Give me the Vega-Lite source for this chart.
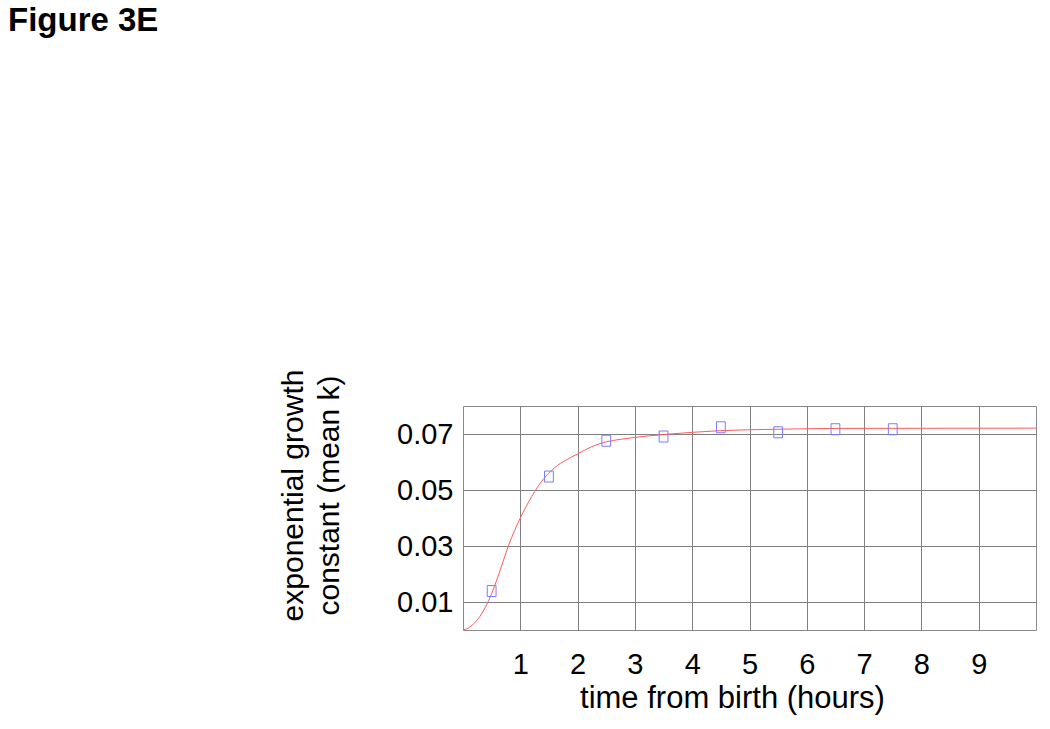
{
  "$schema": "https://vega.github.io/schema/vega-lite/v6.json",
  "autosize": "none",
  "width": 573,
  "height": 224,
  "padding": {"left": 463, "top": 406, "right": 14, "bottom": 99},
  "background": "white",
  "config": {
    "font": "Liberation Sans",
    "view": {"stroke": "#8a8a8a", "strokeWidth": 1}
  },
  "title": {
    "text": "Figure 3E",
    "anchor": "start",
    "frame": "group",
    "fontSize": 33,
    "fontWeight": "bold",
    "font": "Liberation Sans",
    "color": "black",
    "dx": -455,
    "dy": -305,
    "offset": 0,
    "baseline": "alphabetic"
  },
  "datasets": {
    "fit": [
      {"t": 0, "k": 0},
      {"t": 0.1, "k": 0.0008},
      {"t": 0.2, "k": 0.0025},
      {"t": 0.3, "k": 0.005},
      {"t": 0.4, "k": 0.0085},
      {"t": 0.5, "k": 0.013},
      {"t": 0.6, "k": 0.0185},
      {"t": 0.7, "k": 0.0245},
      {"t": 0.8, "k": 0.0305},
      {"t": 0.9, "k": 0.0355},
      {"t": 1.0, "k": 0.04},
      {"t": 1.1, "k": 0.044},
      {"t": 1.2, "k": 0.0477},
      {"t": 1.3, "k": 0.051},
      {"t": 1.4, "k": 0.0538},
      {"t": 1.5, "k": 0.056},
      {"t": 1.6, "k": 0.058},
      {"t": 1.8, "k": 0.0607},
      {"t": 2.0, "k": 0.0629},
      {"t": 2.25, "k": 0.0655},
      {"t": 2.5, "k": 0.0672},
      {"t": 2.75, "k": 0.0681},
      {"t": 3.0, "k": 0.0688},
      {"t": 3.5, "k": 0.0698},
      {"t": 4.0, "k": 0.0706},
      {"t": 4.5, "k": 0.0712},
      {"t": 5.5, "k": 0.0717},
      {"t": 6.6, "k": 0.072},
      {"t": 10, "k": 0.0721}
    ],
    "obs": [
      {"t": 0.5, "k": 0.0139},
      {"t": 1.5, "k": 0.0548},
      {"t": 2.5, "k": 0.0676},
      {"t": 3.5, "k": 0.0691},
      {"t": 4.5, "k": 0.0724},
      {"t": 5.5, "k": 0.0706},
      {"t": 6.5, "k": 0.0717},
      {"t": 7.5, "k": 0.0717}
    ]
  },
  "encoding": {
    "x": {
      "field": "t",
      "type": "quantitative",
      "scale": {"domain": [0, 10], "nice": false, "zero": false},
      "axis": {
        "title": "time from birth (hours)",
        "values": [1, 2, 3, 4, 5, 6, 7, 8, 9],
        "format": "d",
        "grid": true,
        "gridColor": "#808080",
        "gridOpacity": 1,
        "gridWidth": 1,
        "domain": false,
        "ticks": false,
        "labelPadding": 20,
        "labelFontSize": 29,
        "labelColor": "black",
        "labelFont": "Liberation Sans",
        "titleFontSize": 31,
        "titleFontWeight": "normal",
        "titleColor": "black",
        "titleFont": "Liberation Sans",
        "titleX": 269,
        "titleY": 77,
        "titleAlign": "center",
        "titleBaseline": "alphabetic"
      }
    },
    "y": {
      "field": "k",
      "type": "quantitative",
      "scale": {"domain": [0, 0.08], "nice": false, "zero": false},
      "axis": {
        "title": ["exponential growth", "constant (mean k)"],
        "values": [0.01, 0.03, 0.05, 0.07],
        "format": ".2f",
        "grid": true,
        "gridColor": "#808080",
        "gridOpacity": 1,
        "gridWidth": 1,
        "domain": false,
        "ticks": false,
        "labelPadding": 10,
        "labelFontSize": 29,
        "labelColor": "black",
        "labelFont": "Liberation Sans",
        "titleFontSize": 30,
        "titleFontWeight": "normal",
        "titleColor": "black",
        "titleFont": "Liberation Sans",
        "titleLineHeight": 36,
        "titleAngle": -90,
        "titleX": -161,
        "titleY": 89,
        "titleAlign": "center",
        "titleBaseline": "alphabetic"
      }
    }
  },
  "layer": [
    {
      "data": {"name": "fit"},
      "mark": {"type": "line", "color": "#ff5a5a", "strokeWidth": 1, "interpolate": "monotone", "clip": true}
    },
    {
      "data": {"name": "obs"},
      "mark": {"type": "point", "shape": "M-0.8,-1H0.8V1H-0.8Z", "size": 121, "filled": false, "stroke": "#7a7aff", "strokeWidth": 1, "opacity": 1}
    }
  ]
}
